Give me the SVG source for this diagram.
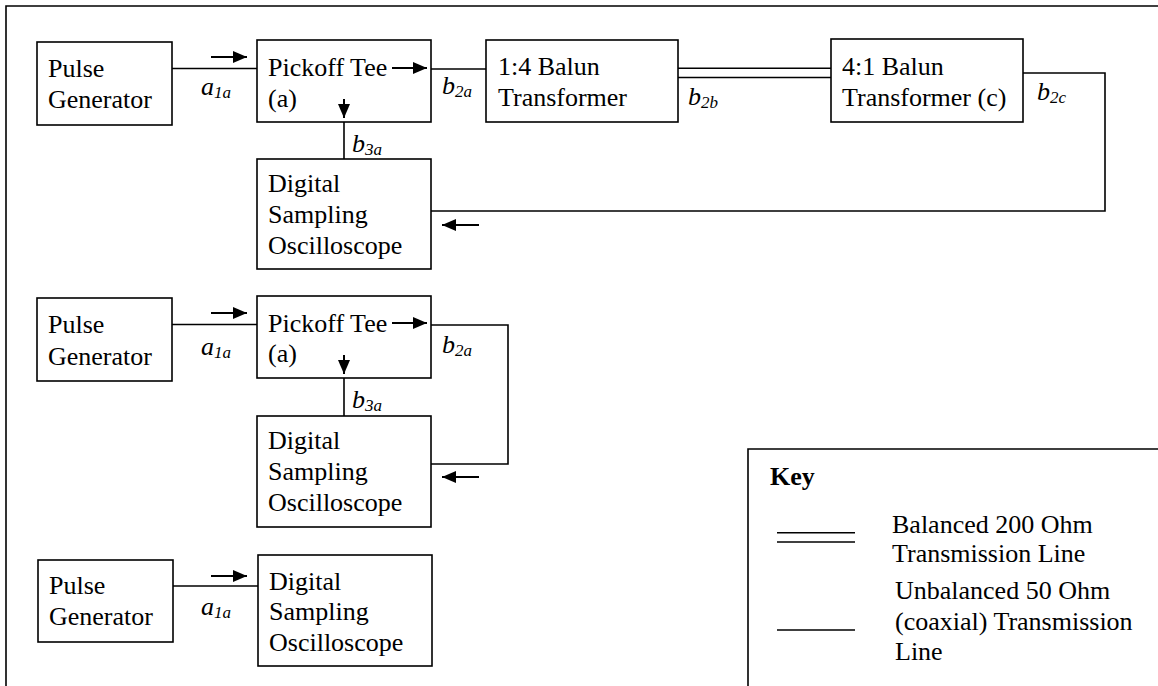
<svg xmlns="http://www.w3.org/2000/svg" width="1158" height="686" viewBox="0 0 1158 686">
<style>
.box{fill:#fff;stroke:#000;stroke-width:1.6}
.ln{fill:none;stroke:#000;stroke-width:1.6}
.ar{fill:none;stroke:#000;stroke-width:2;marker-end:url(#ah)}
.t{font-family:"Liberation Serif","Times New Roman",serif;font-size:26px;fill:#000}
.lab{font-family:"Liberation Serif","Times New Roman",serif;font-size:26px;font-style:italic;fill:#000}
.sub{font-size:17px}
.key{font-family:"Liberation Serif","Times New Roman",serif;font-size:26px;font-weight:bold;fill:#000}
</style>
<defs>
<marker id="ah" markerUnits="userSpaceOnUse" markerWidth="14" markerHeight="12" refX="14" refY="6" orient="auto">
<path d="M0,0 L14,6 L0,12 z" fill="#000"/>
</marker>
</defs>
<rect width="1158" height="686" fill="#fff"/>
<g id="frame">
<path class="ln" d="M6,686 L6,6 L1158,6"/>
</g>

<g id="pg1">
<rect class="box" x="37" y="42" width="135" height="83"/>
<text class="t" x="48" y="77">Pulse</text>
<text class="t" x="48" y="108">Generator</text>
</g>
<g id="tee1">
<rect class="box" x="257" y="40" width="174" height="82"/>
<text class="t" x="268" y="76">Pickoff Tee</text>
<text class="t" x="268" y="107">(a)</text>
</g>
<g id="balun14">
<rect class="box" x="486" y="40" width="192" height="82"/>
<text class="t" x="498" y="75">1:4 Balun</text>
<text class="t" x="498" y="106">Transformer</text>
</g>
<g id="balun41">
<rect class="box" x="831" y="39" width="192" height="83"/>
<text class="t" x="842" y="75">4:1 Balun</text>
<text class="t" x="842" y="106">Transformer (c)</text>
</g>
<g id="dso1">
<rect class="box" x="257" y="159" width="174" height="110"/>
<text class="t" x="268" y="192">Digital</text>
<text class="t" x="268" y="223">Sampling</text>
<text class="t" x="268" y="254">Oscilloscope</text>
</g>

<g id="pg2">
<rect class="box" x="37" y="298" width="135" height="83"/>
<text class="t" x="48" y="333">Pulse</text>
<text class="t" x="48" y="365">Generator</text>
</g>
<g id="tee2">
<rect class="box" x="257" y="296" width="174" height="82"/>
<text class="t" x="268" y="332">Pickoff Tee</text>
<text class="t" x="268" y="362">(a)</text>
</g>
<g id="dso2">
<rect class="box" x="257" y="416" width="174" height="111"/>
<text class="t" x="268" y="449">Digital</text>
<text class="t" x="268" y="480">Sampling</text>
<text class="t" x="268" y="511">Oscilloscope</text>
</g>

<g id="pg3">
<rect class="box" x="38" y="560" width="135" height="82"/>
<text class="t" x="49" y="594">Pulse</text>
<text class="t" x="49" y="625">Generator</text>
</g>
<g id="dso3">
<rect class="box" x="258" y="555" width="174" height="111"/>
<text class="t" x="269" y="590">Digital</text>
<text class="t" x="269" y="620">Sampling</text>
<text class="t" x="269" y="651">Oscilloscope</text>
</g>

<g id="connectors">
<!-- set 1 -->
<line class="ln" x1="172" y1="68.5" x2="257" y2="68.5"/>
<line class="ln" x1="431" y1="69" x2="486" y2="69"/>
<line class="ln" x1="344" y1="122" x2="344" y2="159"/>
<line class="ln" x1="678" y1="68.3" x2="831" y2="68.3"/>
<line class="ln" x1="678" y1="77.5" x2="831" y2="77.5"/>
<path class="ln" d="M1023,73 L1105,73 L1105,211 L431,211"/>
<line class="ar" x1="211" y1="57" x2="247" y2="57"/>
<line class="ar" x1="392" y1="68" x2="427" y2="68"/>
<line class="ar" x1="344" y1="99" x2="344" y2="118"/>
<line class="ar" x1="479" y1="225" x2="442" y2="225"/>
<!-- set 2 -->
<line class="ln" x1="172" y1="324.5" x2="257" y2="324.5"/>
<line class="ln" x1="344" y1="378" x2="344" y2="416"/>
<path class="ln" d="M431,325 L508,325 L508,464 L431,464"/>
<line class="ar" x1="211" y1="313" x2="247" y2="313"/>
<line class="ar" x1="392" y1="323" x2="427" y2="323"/>
<line class="ar" x1="344" y1="355" x2="344" y2="374"/>
<line class="ar" x1="479" y1="477" x2="442" y2="477"/>
<!-- set 3 -->
<line class="ln" x1="173" y1="586" x2="258" y2="586"/>
<line class="ar" x1="211" y1="576" x2="247" y2="576"/>
</g>

<g id="labels">
<text class="lab" x="201" y="95">a<tspan class="sub" dy="3">1a</tspan></text>
<text class="lab" x="442" y="94">b<tspan class="sub" dy="3">2a</tspan></text>
<text class="lab" x="352" y="152">b<tspan class="sub" dy="3">3a</tspan></text>
<text class="lab" x="688" y="105">b<tspan class="sub" dy="3">2b</tspan></text>
<text class="lab" x="1037" y="100">b<tspan class="sub" dy="3">2c</tspan></text>
<text class="lab" x="201" y="355">a<tspan class="sub" dy="3">1a</tspan></text>
<text class="lab" x="442" y="353">b<tspan class="sub" dy="3">2a</tspan></text>
<text class="lab" x="352" y="408">b<tspan class="sub" dy="3">3a</tspan></text>
<text class="lab" x="201" y="615">a<tspan class="sub" dy="3">1a</tspan></text>
</g>

<g id="key">
<path class="ln" d="M748,686 L748,449 L1158,449"/>
<text class="key" x="770" y="485">Key</text>
<line class="ln" x1="777" y1="532.7" x2="855" y2="532.7"/>
<line class="ln" x1="777" y1="542" x2="855" y2="542"/>
<text class="t" x="892" y="533">Balanced 200 Ohm</text>
<text class="t" x="892" y="562">Transmission Line</text>
<line class="ln" x1="777" y1="630" x2="855" y2="630"/>
<text class="t" x="895" y="599">Unbalanced 50 Ohm</text>
<text class="t" x="895" y="630">(coaxial) Transmission</text>
<text class="t" x="895" y="660">Line</text>
</g>
</svg>
